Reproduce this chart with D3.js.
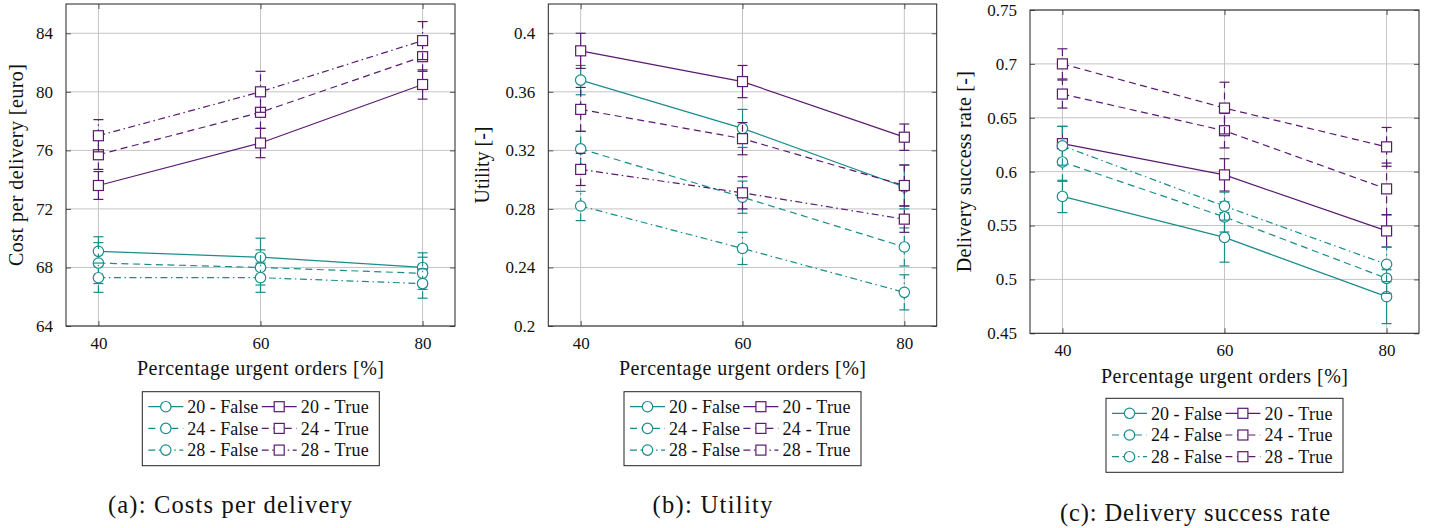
<!DOCTYPE html>
<html>
<head>
<meta charset="utf-8">
<script src="https://cdn.jsdelivr.net/npm/d3@7"></script>
<style>
  body { margin: 0; background: #fff; }
</style>
</head>
<body>
<svg id="chart" width="1438" height="528"></svg>
<script>
// ---- data -----------------------------------------------------------------
const xValues = [40, 60, 80];
const seriesLabels = ['20 - False', '20 - True', '24 - False', '24 - True', '28 - False', '28 - True'];

// order: 20F, 20T, 24F, 24T, 28F, 28T
const costMean = [
  [69.1, 68.7, 68.0], [73.6, 76.5, 80.5],
  [68.3, 68.0, 67.6], [75.7, 78.6, 82.4],
  [67.3, 67.3, 66.9], [77.0, 80.0, 83.5]
];
const costErr = [
  [1.0, 1.3, 1.0], [0.95, 1.0, 1.0],
  [1.4, 1.2, 1.1], [1.0, 1.1, 1.0],
  [1.0, 1.0, 1.0], [1.1, 1.4, 1.3]
];
const utilityMean = [
  [0.368, 0.335, 0.295], [0.388, 0.367, 0.329],
  [0.321, 0.288, 0.254], [0.348, 0.328, 0.296],
  [0.282, 0.253, 0.223], [0.307, 0.291, 0.273]
];
const utilityErr = [
  [0.010, 0.013, 0.015], [0.012, 0.011, 0.009],
  [0.012, 0.011, 0.013], [0.015, 0.011, 0.014],
  [0.010, 0.011, 0.012], [0.011, 0.011, 0.009]
];
const successMean = [
  [0.577, 0.539, 0.484], [0.626, 0.597, 0.545],
  [0.609, 0.558, 0.501], [0.672, 0.638, 0.584],
  [0.624, 0.568, 0.514], [0.700, 0.659, 0.623]
];
const successErr = [
  [0.015, 0.023, 0.025], [0.016, 0.015, 0.015],
  [0.018, 0.014, 0.014], [0.013, 0.016, 0.024],
  [0.018, 0.013, 0.016], [0.014, 0.024, 0.018]
];

const costTicks = [64, 68, 72, 76, 80, 84];
const utilityTicks = [0.2, 0.24, 0.28, 0.32, 0.36, 0.4];
const successTicks = [0.45, 0.5, 0.55, 0.6, 0.65, 0.7, 0.75];
const costTickLabels = ['64', '68', '72', '76', '80', '84'];
const utilityTickLabels = ['0.2', '0.24', '0.28', '0.32', '0.36', '0.4'];
const successTickLabels = ['0.45', '0.5', '0.55', '0.6', '0.65', '0.7', '0.75'];

// ---- styles ---------------------------------------------------------------
const FONT = 'Liberation Serif';
const TEAL = '#1b8c8c';
const PURPLE = '#5a1a70';
const DASHED = '7,4.5';
const DASHDOT = '7,3.5,1.5,3.5';

function styleFor(i, panelKey) {
  const isTrue = i % 2 === 1;
  const group = Math.floor(i / 2);
  let dash = group === 0 ? null : (group === 1 ? DASHED : DASHDOT);
  // in the success-rate panel the 28 - True series is drawn dashed
  if (panelKey === 'c' && i === 5) dash = DASHED;
  return { color: isTrue ? PURPLE : TEAL, marker: isTrue ? 'square' : 'circle', dash: dash };
}

const panels = [
  { key: 'a', mean: costMean, err: costErr, ticks: costTicks, tickLabels: costTickLabels,
    left: 66, right: 455, top: 4, bottom: 326, yDomain: [64, 86],
    yLabel: 'Cost per delivery [euro]', yLabelX: 16, yLabelLen: 202,
    xLabelY: 375,
    legendX: 142.3, legendY: 391.7,
    caption: '(a): Costs per delivery', captionX: 230, captionY: 513, captionLen: 244 },
  { key: 'b', mean: utilityMean, err: utilityErr, ticks: utilityTicks, tickLabels: utilityTickLabels,
    left: 548.3, right: 936.7, top: 4, bottom: 326, yDomain: [0.2, 0.42],
    yLabel: 'Utility [-]', yLabelX: 481.5, yLabelLen: 77,
    xLabelY: 375,
    legendX: 624, legendY: 391.7,
    caption: '(b): Utility', captionX: 712.5, captionY: 513, captionLen: 120 },
  { key: 'c', mean: successMean, err: successErr, ticks: successTicks, tickLabels: successTickLabels,
    left: 1030, right: 1419, top: 10, bottom: 333.3, yDomain: [0.45, 0.75],
    yLabel: 'Delivery success rate [-]', yLabelX: 964, yLabelLen: 201,
    xLabelY: 383,
    legendX: 1106, legendY: 398.3,
    caption: '(c): Delivery success rate', captionX: 1195, captionY: 520.5, captionLen: 270 }
];

const svg = d3.select('#chart');

function drawMarker(g, type, x, y, color) {
  if (type === 'circle') {
    g.append('circle').attr('cx', x).attr('cy', y).attr('r', 5.2)
      .attr('fill', '#fff').attr('stroke', color).attr('stroke-width', 1.2);
  } else {
    g.append('rect').attr('x', x - 5).attr('y', y - 5).attr('width', 10).attr('height', 10)
      .attr('fill', '#fff').attr('stroke', color).attr('stroke-width', 1.2);
  }
}

function label(g, size) {
  return g.append('text').style('font-family', FONT).style('font-size', size + 'px')
    .attr('fill', '#111');
}

panels.forEach(p => {
  const xScale = d3.scaleLinear().domain([36, 84]).range([p.left, p.right]);
  const yScale = d3.scaleLinear().domain(p.yDomain).range([p.bottom, p.top]);
  const g = svg.append('g');

  // grid
  g.append('g').selectAll('line').data(p.ticks).join('line')
    .attr('x1', p.left).attr('x2', p.right)
    .attr('y1', d => yScale(d)).attr('y2', d => yScale(d))
    .attr('stroke', '#c4c4c4').attr('stroke-width', 1);
  g.append('g').selectAll('line').data(xValues).join('line')
    .attr('x1', d => xScale(d)).attr('x2', d => xScale(d))
    .attr('y1', p.top).attr('y2', p.bottom)
    .attr('stroke', '#c4c4c4').attr('stroke-width', 1);

  // axes (ticks inward on all four sides)
  const yAxisL = d3.axisLeft(yScale).tickValues(p.ticks).tickSize(-5).tickFormat((d, i) => p.tickLabels[i]).tickPadding(13);
  const yAxisR = d3.axisRight(yScale).tickValues(p.ticks).tickSize(-5).tickFormat('');
  const xAxisB = d3.axisBottom(xScale).tickValues(xValues).tickSize(-5).tickFormat(d3.format('d')).tickPadding(11);
  const xAxisT = d3.axisTop(xScale).tickValues(xValues).tickSize(-5).tickFormat('');

  [[yAxisL, `translate(${p.left},0)`], [yAxisR, `translate(${p.right},0)`],
   [xAxisB, `translate(0,${p.bottom})`], [xAxisT, `translate(0,${p.top})`]].forEach(([ax, tr]) => {
    const a = g.append('g').attr('transform', tr).call(ax);
    a.select('.domain').remove();
    a.selectAll('.tick line').attr('stroke', '#555').attr('stroke-width', 1);
    a.selectAll('.tick text').attr('fill', '#111')
      .style('font-family', FONT).style('font-size', '17px');
  });

  // series
  p.mean.forEach((vals, i) => {
    const st = styleFor(i, p.key);
    const sg = g.append('g');
    const line = d3.line().x((d, j) => xScale(xValues[j])).y(d => yScale(d));
    sg.append('path').datum(vals).attr('d', line)
      .attr('fill', 'none').attr('stroke', st.color).attr('stroke-width', 1.2)
      .attr('stroke-dasharray', st.dash);
    // error bars
    vals.forEach((v, j) => {
      const e = p.err[i][j];
      const x = xScale(xValues[j]);
      const y0 = yScale(v - e), y1 = yScale(v + e);
      sg.append('line').attr('x1', x).attr('x2', x).attr('y1', y0).attr('y2', y1)
        .attr('stroke', st.color).attr('stroke-width', 1.2).attr('stroke-dasharray', st.dash);
      [y0, y1].forEach(yy => sg.append('line').attr('x1', x - 5).attr('x2', x + 5)
        .attr('y1', yy).attr('y2', yy).attr('stroke', st.color).attr('stroke-width', 1.2));
    });
    vals.forEach((v, j) => drawMarker(sg, st.marker, xScale(xValues[j]), yScale(v), st.color));
  });

  // frame
  g.append('rect').attr('x', p.left).attr('y', p.top)
    .attr('width', p.right - p.left).attr('height', p.bottom - p.top)
    .attr('fill', 'none').attr('stroke', '#222').attr('stroke-width', 1);

  // axis labels
  label(g, 20).attr('x', (p.left + p.right) / 2).attr('y', p.xLabelY)
    .attr('text-anchor', 'middle')
    .attr('textLength', 247).attr('lengthAdjust', 'spacing')
    .text('Percentage urgent orders [%]');
  label(g, 20)
    .attr('transform', `translate(${p.yLabelX},${(p.top + p.bottom) / 2}) rotate(-90)`)
    .attr('text-anchor', 'middle').attr('dy', '0.35em')
    .attr('textLength', p.yLabelLen).attr('lengthAdjust', 'spacing')
    .text(p.yLabel);

  // legend
  const lg = g.append('g').attr('transform', `translate(${p.legendX},${p.legendY})`);
  lg.append('rect').attr('width', 237).attr('height', 74)
    .attr('fill', '#fff').attr('stroke', '#222').attr('stroke-width', 1);
  seriesLabels.forEach((lab, i) => {
    const st = styleFor(i, p.key);
    const col = i % 2, row = Math.floor(i / 2);
    const x0 = col === 0 ? 6 : 119.4;
    const yy = 15 + row * 21.7;
    lg.append('line').attr('x1', x0).attr('x2', x0 + 35).attr('y1', yy).attr('y2', yy)
      .attr('stroke', st.color).attr('stroke-width', 1.2).attr('stroke-dasharray', st.dash);
    drawMarker(lg, st.marker, x0 + 17.5, yy, st.color);
    label(lg, 18).attr('x', x0 + 39).attr('y', yy).attr('dy', '0.35em')
      .attr('textLength', col === 0 ? 71 : 68).attr('lengthAdjust', 'spacing')
      .text(lab);
  });

  // caption
  label(g, 24.5).attr('x', p.captionX).attr('y', p.captionY)
    .attr('text-anchor', 'middle')
    .attr('textLength', p.captionLen).attr('lengthAdjust', 'spacing')
    .text(p.caption);
});
</script>
</body>
</html>
